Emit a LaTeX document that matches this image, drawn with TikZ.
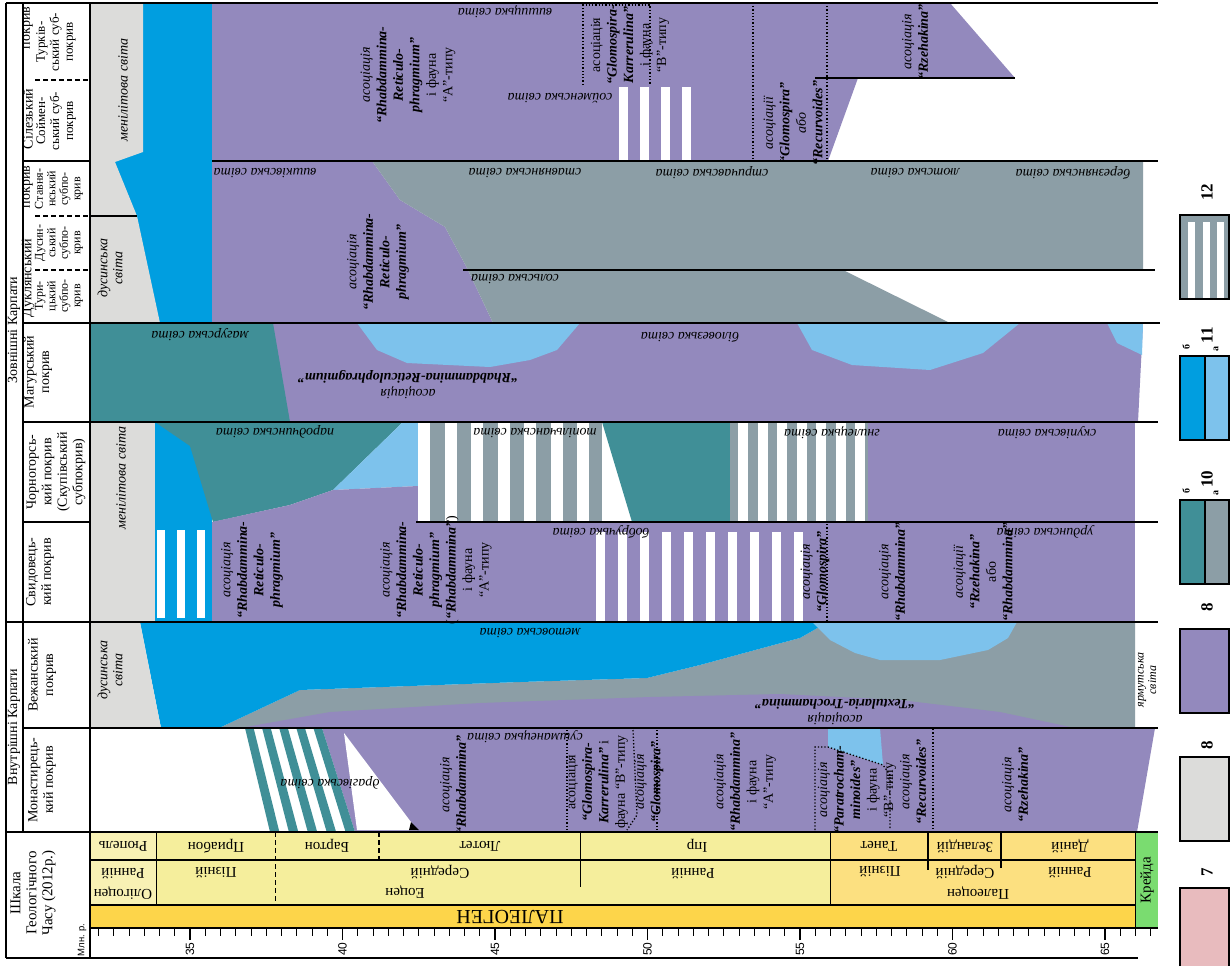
\documentclass[tikz,border=0pt]{standalone}
\usepackage{fontspec}
\setmainfont{Liberation Serif}
\newfontfamily\sansf{Liberation Sans}
\newcommand\bfit[1]{{\bfseries\itshape #1}}
\definecolor{vio}{RGB}{147,137,189}
\definecolor{lgr}{RGB}{220,220,218}
\definecolor{blu}{RGB}{0,158,224}
\definecolor{lbl}{RGB}{125,194,236}
\definecolor{tea}{RGB}{64,143,151}
\definecolor{gbl}{RGB}{140,158,166}
\definecolor{pnk}{RGB}{232,187,190}
\definecolor{yol}{RGB}{248,241,180}
\definecolor{yeo}{RGB}{245,238,156}
\definecolor{ypa}{RGB}{252,224,128}
\definecolor{ypg}{RGB}{253,213,74}
\definecolor{grn}{RGB}{122,220,112}
\begin{document}
\begin{tikzpicture}[x=1pt,y=-1pt]
\tikzset{
 fm/.style={font=\fontsize{14}{15}\selectfont\itshape, rotate=180, inner sep=0pt},
 fmv/.style={font=\fontsize{14}{15}\selectfont\itshape, rotate=90, align=center, inner sep=0pt},
 asv/.style={font=\fontsize{14}{16.5}\selectfont, rotate=90, align=center, inner sep=0pt},
 ash/.style={font=\fontsize{14}{16}\selectfont, rotate=180, align=center, inner sep=0pt},
 hdr/.style={font=\fontsize{14}{15.5}\selectfont, rotate=90, align=center, inner sep=0pt},
 subh/.style={font=\fontsize{12}{12.5}\selectfont, rotate=90, align=center, inner sep=0pt},
 tsc/.style={font=\fontsize{15}{16}\selectfont, rotate=180, inner sep=0pt},
 lgnd/.style={font=\fontsize{17}{17}\selectfont\bfseries, rotate=90, inner sep=0pt},
 lgsm/.style={font=\fontsize{10}{10}\selectfont\bfseries, rotate=90, inner sep=0pt},
 rl/.style={line width=1.1pt},
 dl/.style={dotted, line width=1.3pt},
 dsh/.style={line width=1.6pt, dash pattern=on 5pt off 3pt},
}
\useasboundingbox (0,0) rectangle (1230,966);
\fill[white] (0,0) rectangle (1230,966);

% ---------- rows 1-2 (Silesian, Dukla) ----------
\fill[blu] (90,3) rectangle (212,323);
\fill[lgr] (90,3) -- (143,3) -- (143,152) -- (115,162) -- (137,216) -- (160,323) -- (90,323) -- cycle;
\fill[vio] (212,3) -- (950,3) -- (1015,78) -- (858,78) -- (828,161) -- (212,161) -- cycle;
\foreach \i in {0,...,3} \fill[white] ({619+21*\i},87) rectangle ++(9,74);
\fill[vio] (212,161) -- (372,161) -- (400,200) -- (445,227) -- (467,268) -- (493,323) -- (212,323) -- cycle;
\fill[gbl] (372,161) -- (1143,161) -- (1143,270) -- (843,270) -- (950,323) -- (493,323) -- (467,268) -- (445,227) -- (400,200) -- cycle;

% ---------- row 3 (Magura) ----------
\fill[vio] (90,323) -- (1143,323) -- (1138,422) -- (90,422) -- cycle;
\fill[tea] (90,323) -- (273,323) -- (290,422) -- (90,422) -- cycle;
\fill[lbl] (357,323) -- (580,323) -- (557,350) -- (530,360) -- (490,367) -- (407,363) -- (377,350) -- cycle;
\fill[lbl] (797,323) -- (1020,323) -- (983,353) -- (930,370) -- (852,365) -- (812,350) -- cycle;
\fill[lbl] (1107,323) -- (1143,323) -- (1142,355) -- (1117,343) -- cycle;

% ---------- rows 4-5 (Chornohora, Svydovets) ----------
\fill[lgr] (90,422) rectangle (155,622);
\fill[blu] (155,422) rectangle (212,622);
\fill[tea] (155,422) -- (403,422) -- (333,490) -- (290,505) -- (213,522) -- (190,446) -- cycle;
\fill[lbl] (403,422) -- (418,422) -- (418,486) -- (333,490) -- cycle;
\fill[vio] (212,522) -- (290,505) -- (333,490) -- (418,486) -- (418,522) -- cycle;
\fill[gbl] (418,422) rectangle (602,522);
\foreach \i in {0,...,6} \fill[white] ({418+26.5*\i},422) rectangle ++(12,100);
\fill[tea] (602,422) -- (730,422) -- (730,522) -- (632,522) -- cycle;
\fill[gbl] (730,422) rectangle (868,522);
\foreach \i in {0,...,6} \fill[white] ({738+19.5*\i},422) rectangle ++(10,100);
\fill[vio] (868,422) rectangle (1135,522);
\fill[vio] (212,522) rectangle (1135,622);
\foreach \x in {157,177,197} \fill[white] (\x,530) rectangle ++(8,88);
\foreach \i in {0,...,9} \fill[white] ({596+22*\i},532) rectangle ++(9,90);

% ---------- row 6 (Vezhany) ----------
\fill[gbl] (219,728) -- (300,690) -- (520,682) -- (647,678) -- (700,665) -- (770,646) -- (800,638) -- (828,622) -- (1135,622) -- (1135,728) -- cycle;
\fill[blu] (140,622) -- (828,622) -- (800,638) -- (770,646) -- (700,665) -- (647,678) -- (520,682) -- (300,690) -- (219,728) -- (161,728) -- cycle;
\fill[lbl] (812,622) -- (1017,622) -- (1008,638) -- (988,650) -- (940,660) -- (880,660) -- (855,653) -- (830,640) -- cycle;
\fill[vio] (240,728) -- (330,712) -- (480,703) -- (650,697) -- (780,694) -- (900,700) -- (1000,712) -- (1075,728) -- cycle;
\fill[lgr] (90,622) -- (140,622) -- (161,728) -- (90,728) -- cycle;

% ---------- row 7 (Monastyrets) ----------
\fill[vio] (322,728) -- (1155,728) -- (1137,832) -- (355,832) -- cycle;
\foreach \i in {0,...,4} \fill[tea] ({245+17.1*\i},728) -- ({253.6+17.1*\i},728) -- ({279.4+18.9*\i},832) -- ({270+18.9*\i},832) -- cycle;
\fill[white] (344,733) -- (417,830) -- (357,830) -- cycle;
\fill[black] (411,822) -- (419,830) -- (409,830) -- cycle;
\fill[lbl] (828,728) -- (880,728) -- (883,765) -- (828,747) -- cycle;

% ---------- time scale ----------
\fill[yol] (90,832) rectangle (156.5,905);
\fill[yeo] (156.5,832) rectangle (830.5,905);
\fill[ypa] (830.5,832) rectangle (1135.5,905);
\fill[ypg] (90,905) rectangle (1135.5,928);
\fill[grn] (1135.5,832) rectangle (1158,928);
\draw[rl] (90,860) -- (1135.5,860);
\draw[rl] (90,905) -- (1135.5,905);
\draw[rl] (90,928) -- (1158,928);
\draw[rl] (156.5,832) -- (156.5,905);
\draw[line width=1.1pt, dash pattern=on 5pt off 3pt] (275.4,832) -- (275.4,905);
\draw[line width=1.1pt, dash pattern=on 5pt off 3pt] (379,832) -- (379,860);
\draw[rl] (580.4,832) -- (580.4,887);
\draw[rl] (830.5,832) -- (830.5,905);
\draw[rl] (928,832) -- (928,870);
\draw[rl] (1001,832) -- (1001,868);
\draw[rl] (1135.5,832) -- (1135.5,928);
\foreach \i in {0,...,69} \draw[line width=1pt] ({98.5+15.25*\i},928) -- ++(0,8);
\foreach \t in {35,40,...,65} {
  \draw[line width=1.2pt] ({190+(\t-35)*30.5},928) -- ++(0,12);
  \node[rotate=90, font=\sansf\fontsize{12}{12}\selectfont, inner sep=0pt] (ax\t) at ({190+(\t-35)*30.5},949) {\t};
}
\draw[rl] (6,958) -- (1138,958);

\node[tsc] (st1) at (123,846) {Рюпель};
\node[tsc] (st2) at (216,846) {Приабон};
\node[tsc] (st3) at (327,846) {Бартон};
\node[tsc] (st4) at (480,846) {Лютет};
\node[tsc] (st5) at (697,846) {Іпр};
\node[tsc] (st6) at (879,846) {Танет};
\node[tsc] (st7) at (965,846) {Зеландій};
\node[tsc] (st8) at (1070,846) {Даній};
\node[tsc] (se1) at (123,874) {Ранній};
\node[tsc] (ep1) at (123,893) {Олігоцен};
\node[tsc] (se2) at (216,873) {Пізній};
\node[tsc] (se3) at (440,872) {Середній};
\node[tsc] (ep2) at (405,892) {Еоцен};
\node[tsc] (se4) at (693,874) {Ранній};
\node[tsc] (se5) at (880,872) {Пізній};
\node[tsc] (se6) at (965,872) {Середній};
\node[tsc] (ep3) at (978,893) {Палеоцен};
\node[tsc] (se7) at (1070,873) {Ранній};
\node[tsc, font=\fontsize{20}{20}\selectfont] (per) at (510,917) {ПАЛЕОГЕН};
\node[rotate=90, font=\fontsize{15}{15}\selectfont, inner sep=0pt] (kr) at (1147,880) {Крейда};

% ---------- lines of the chart ----------
\draw[rl] (6,3) -- (1158,3);
\draw[rl] (6,3) -- (6,958);
\draw[rl] (23,3) -- (23,832);
\draw[rl] (90,3) -- (90,958);
\foreach \y in {161,323,422,522,728} \draw[rl] (23,\y) -- (90,\y);
\foreach \y in {622,832} \draw[rl] (6,\y) -- (90,\y);
\draw[rl] (212,161) -- (1158,161);
\draw[rl] (90,216) -- (137,216);
\draw[rl] (463,270) -- (1155,270);
\draw[rl] (815,78) -- (1015,78);
\draw[rl] (90,323) -- (1160,323);
\draw[rl] (90,422) -- (1158,422);
\draw[rl] (416,522) -- (1158,522);
\draw[rl] (90,622) -- (1158,622);
\draw[rl] (90,728) -- (1158,728);
\draw[rl] (90,832) -- (1158,832);
\draw[dsh] (35,80) -- (90,80);
\draw[dsh] (35,216) -- (90,216);
\draw[dsh] (35,270) -- (90,270);
% dotted lines
\draw[dl] (583,85) -- (583,5) -- (650,5) -- (650,85);
\draw[dl] (753,6) -- (753,160);
\draw[dl] (827,6) -- (827,160);
\draw[dl] (827,524) -- (827,621);
\draw[dl] (567,730) -- (567,830);
\draw[dl] (633,730) -- (637,815) -- (627,830);
\draw[dl] (657,730) -- (657,830);
\draw[dl] (815,830) -- (815,747) -- (828,747) -- (883,765) -- (890,775) -- (890,830);
\draw[dl] (933,729) -- (933,830);

% ---------- header texts ----------
\node[hdr] (g1) at (14,330) {Зовнішні Карпати};
\node[hdr] (g2) at (14,727) {Внутрішні Карпати};
\node[hdr] (h1a) at (28,119) {Сілезький};
\node[hdr] (h1b) at (28,28) {покрив};
\node[subh, font=\fontsize{13}{14}\selectfont] (h1c) at (56,42) {Турків-\\ський суб-\\покрив};
\node[subh, font=\fontsize{13}{14}\selectfont] (h1d) at (56,121) {Соймен-\\ський суб-\\покрив};
\node[hdr] (h2a) at (28,278) {Дуклянський};
\node[hdr] (h2b) at (28,187) {покрив};
\node[subh] (h2c) at (59,296) {Тури-\\цький\\субпо-\\крив};
\node[subh] (h2d) at (59,243) {Дусин-\\ський\\субпо-\\крив};
\node[subh] (h2e) at (59,189) {Ставня-\\нський\\субпо-\\крив};
\node[hdr] (h3) at (38,372) {Магурський\\покрив};
\node[hdr] (h4) at (56,472) {Чорногорсь-\\кий покрив\\(Скупівський\\субпокрив)};
\node[hdr] (h5) at (40,572) {Свидовець-\\кий покрив};
\node[hdr] (h6) at (42,675) {Вежанський\\покрив};
\node[hdr] (h7) at (42,780) {Монастирець-\\кий покрив};
\node[hdr, font=\fontsize{15}{16}\selectfont] (h8) at (33,893) {Шкала\\Геологічного\\Часу (2012р.)};
\node[rotate=90, font=\sansf\fontsize{9.5}{10}\selectfont, inner sep=0pt] (h9) at (82,940) {Млн. р.};

% ---------- formation names ----------
\node[fmv] (f0a) at (123,90) {менілітова світа};
\node[fmv] (f0b) at (110,268) {дусинська\\світа};
\node[fmv] (f0c) at (121,478) {менілітова світа};
\node[fmv] (f0d) at (110,670) {дусинська\\світа};
\node[fmv, font=\fontsize{12}{12.5}\selectfont\itshape] (f0e) at (1147,680) {ярмутська\\світа};
\node[fm] (f1) at (505,12) {вишицька світа};
\node[fm] (f2) at (560,98) {сойменська світа};
\node[fm] (f3) at (265,173) {вишківська світа};
\node[fm] (f4) at (525,173) {ставнянська світа};
\node[fm] (f5) at (712,173) {стричавська світа};
\node[fm] (f6) at (915,173) {лютська світа};
\node[fm] (f7) at (1073,173) {березнянська світа};
\node[fm] (f8) at (515,279) {сольська світа};
\node[fm] (f9) at (200,335) {магурська світа};
\node[fm] (f10) at (690,337) {біловезька світа};
\node[fm] (f11) at (275,432) {пародчинська світа};
\node[fm] (f12) at (535,433) {топільчанська світа};
\node[fm] (f13) at (832,433) {гнилецька світа};
\node[fm] (f14) at (1047,433) {скупівська світа};
\node[fm] (f15) at (601,532) {бобручька світа};
\node[fm] (f16) at (1045,532) {урдинська світа};
\node[fm] (f17) at (530,633) {метовська світа};
\node[fm] (f18) at (525,737) {сушманецька світа};
\node[fm] (f19) at (330,783) {драгівська світа};

% ---------- associations ----------
\node[asv] (a1) at (408,75) {\textit{асоціація}\\\bfit{“Rhabdammina-}\\\bfit{Reticulo-}\\\bfit{phragmium”}\\і фауна\\“А”-типу};
\node[asv] (a2) at (630,45) {асоціація\\\bfit{“Glomospira-}\\\bfit{Karrerulina”}\\і фауна\\“В”-типу};
\node[asv] (a3) at (793,123) {\textit{асоціації}\\\bfit{“Glomospira”}\\\textit{або}\\\bfit{“Recurvoides”}};
\node[asv] (a4) at (915,42) {\textit{асоціація}\\\bfit{“Rzehakina”}};
\node[asv] (a5) at (378,262) {\textit{асоціація}\\\bfit{“Rhabdammina-}\\\bfit{Reticulo-}\\\bfit{phragmium”}};
\node[ash] (a6) at (408,385) {\textit{асоціація}\\\bfit{“Rhabdammina-Reticulophragmium”}};
\node[asv] (a7) at (252,570) {\textit{асоціація}\\\bfit{“Rhabdammina-}\\\bfit{Reticulo-}\\\bfit{phragmium”}};
\node[asv] (a8) at (436,570) {\textit{асоціація}\\\bfit{“Rhabdammina-}\\\bfit{Reticulo-}\\\bfit{phragmium”}\\(\bfit{“Rhabdammina”})\\і фауна\\“А”-типу};
\node[asv] (a9) at (815,572) {\textit{асоціація}\\\bfit{“Glomospira”}};
\node[asv] (a10) at (892,572) {\textit{асоціація}\\\bfit{“Rhabdammina”}};
\node[asv] (a11) at (983,572) {\textit{асоціації}\\\bfit{“Rzehakina”}\\або\\\bfit{“Rhabdammina”}};
\node[ash] (a12) at (835,712) {\textit{асоціація}\\\bfit{“Textularia-Trochammina”}};
\node[asv] (a13) at (453,785) {\textit{асоціація}\\\bfit{“Rhabdammina”}};
\node[asv] (a14) at (597,782) {асоціація\\\bfit{“Glomospira-}\\\bfit{Karrerulina”} і\\фауна “В”-типу};
\node[asv] (a15) at (649,782) {\textit{асоціація}\\\bfit{“Glomospira”}};
\node[asv] (a16) at (745,782) {\textit{асоціація}\\\bfit{“Rhabdammina”}\\і фауна\\“А”-типу};
\node[asv] (a17) at (857,790) {\textit{асоціація}\\\bfit{“Paratrocham-}\\\bfit{minoides”}\\і фауна\\“В”-типу};
\node[asv] (a18) at (913,782) {\textit{асоціація}\\\bfit{“Recurvoides”}};
\node[asv] (a19) at (1015,785) {\textit{асоціація}\\\bfit{“Rzehakina”}};

% ---------- legend ----------
\fill[gbl] (1180,215) rectangle (1229,299);
\foreach \x in {1188,1203,1217} \fill[white] (\x,222) rectangle ++(7,77);
\draw[rl] (1180,215) rectangle (1229,299);
\fill[blu] (1180,356) rectangle (1205,440);
\fill[lbl] (1205,356) rectangle (1229,440);
\draw[rl] (1180,356) rectangle (1229,440);
\draw[rl] (1205,356) -- (1205,440);
\fill[tea] (1180,500) rectangle (1205,584);
\fill[gbl] (1205,500) rectangle (1229,584);
\draw[rl] (1180,500) rectangle (1229,584);
\draw[rl] (1205,500) -- (1205,584);
\fill[vio] (1180,629) rectangle (1229,713);
\draw[rl] (1180,629) rectangle (1229,713);
\fill[lgr] (1180,757) rectangle (1229,841);
\draw[rl] (1180,757) rectangle (1229,841);
\fill[pnk] (1180,888) rectangle (1229,966);
\draw[rl] (1180,966) -- (1180,888) -- (1229,888) -- (1229,966);
\node[lgnd] (l12) at (1207,192) {12};
\node[lgnd] (l11) at (1207,335) {11};
\node[lgsm] (l11b) at (1186,347) {б};
\node[lgsm] (l11a) at (1216,349) {а};
\node[lgnd] (l10) at (1207,479) {10};
\node[lgsm] (l10b) at (1186,491) {б};
\node[lgsm] (l10a) at (1216,493) {а};
\node[lgnd] (l8a) at (1207,607) {8};
\node[lgnd] (l8b) at (1207,745) {8};
\node[lgnd] (l7) at (1207,872) {7};
\end{tikzpicture}
\end{document}
